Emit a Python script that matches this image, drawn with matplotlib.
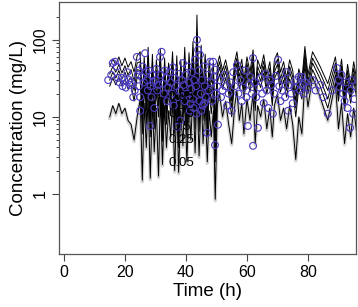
import numpy as np
import matplotlib
matplotlib.use("Agg")
import matplotlib.pyplot as plt
import matplotlib.transforms as mtransforms
from matplotlib.ticker import FixedLocator, NullFormatter

plt.rcParams['font.family'] = ['Liberation Sans', 'DejaVu Sans']

# simulated quantile lines (VPC), one value per observation time
time = [15.0, 16.0, 17.0, 18.0, 19.0, 20.0, 21.0, 22.0, 23.0, 24.0,
        25.0, 25.7, 26.3, 27.0, 27.6, 28.3, 29.0, 29.6, 30.3, 31.0, 31.6, 32.3, 33.0,
        33.6, 34.3, 35.0, 35.6, 36.3, 37.0, 37.6, 38.3, 39.0, 39.6, 40.3, 41.0, 41.6,
        42.3, 43.0, 43.6, 44.3, 45.0, 45.6, 46.3, 47.0, 47.6, 48.3, 49.0, 49.6,
        50.3, 51.0, 52.0, 53.0, 54.0, 55.0, 56.0, 56.7, 57.5, 58.3, 59.0, 60.0, 61.0,
        62.0, 62.7, 63.5, 64.5, 65.5, 66.5, 67.5, 68.3, 69.0, 70.0, 71.0, 72.0, 73.0,
        74.0, 75.0, 76.0, 77.0, 78.0, 79.0, 80.0, 81.5, 84.0, 86.5, 89.0, 90.0, 91.0,
        92.0, 93.0, 94.0, 95.0, 96.0]

q95 = [45, 56, 48, 60, 46, 58, 44, 52, 38, 62,
       70, 16, 60, 22, 80, 15, 65, 18, 55, 25, 75, 13, 58, 20, 50, 27, 70, 16, 62, 11,
       55, 22, 80, 15, 68, 25, 95, 18, 210, 17, 85, 24, 65, 15, 55, 28, 50, 8,
       48, 62, 40, 55, 36, 20, 52, 70, 40, 56, 30, 60, 38, 74, 22, 55, 42, 64, 35, 52,
       25, 55, 68, 38, 52, 32, 55, 40, 20, 42, 30, 82, 35, 70, 45, 27, 60, 28, 56,
       22, 48, 26, 52, 30]
q75 = [36, 45, 38, 48, 37, 46, 35, 41, 29, 50,
       52, 12, 46, 16, 60, 11, 50, 13, 40, 19, 56, 9, 44, 15, 37, 20, 52, 12, 47, 8,
       40, 16, 58, 11, 50, 19, 68, 13, 120, 12, 60, 18, 47, 11, 40, 20, 37, 6,
       40, 52, 33, 46, 30, 16, 43, 58, 33, 46, 25, 50, 31, 61, 18, 45, 35, 53, 29, 43,
       20, 45, 56, 31, 43, 26, 45, 33, 16, 35, 25, 68, 29, 58, 37, 22, 50, 23, 46,
       18, 40, 21, 43, 25]
q50 = [30, 38, 32, 40, 31, 38, 29, 33, 22, 41,
       40, 9, 35, 12, 45, 8, 38, 10, 30, 14, 42, 7, 33, 11, 28, 15, 40, 9, 36, 6,
       30, 12, 44, 8, 38, 14, 50, 10, 70, 9, 45, 13, 35, 8, 30, 15, 28, 4,
       34, 44, 28, 39, 25, 13, 36, 49, 28, 39, 21, 42, 26, 52, 15, 38, 29, 45, 24, 36,
       17, 38, 48, 26, 36, 22, 38, 28, 13, 29, 21, 57, 24, 50, 31, 17, 42, 19, 39,
       15, 33, 18, 36, 21]
q25 = [25, 32, 26, 33, 25, 31, 23, 26, 16, 33,
       30, 6, 26, 8, 33, 5.5, 28, 7, 22, 10, 31, 4.8, 25, 8, 21, 11, 30, 6, 27, 4,
       22, 8.5, 33, 5.5, 28, 10, 37, 7, 45, 6.5, 33, 9, 26, 5.5, 22, 11, 21, 2.6,
       28, 36, 23, 32, 20, 10, 30, 40, 23, 32, 17, 34, 21, 42, 12, 31, 24, 37, 20, 30,
       14, 31, 39, 21, 30, 18, 31, 23, 10, 24, 17, 47, 20, 41, 25, 13, 35, 16, 32,
       12, 27, 15, 30, 17]
q05 = [10, 14, 11, 15, 11, 13, 9, 8, 5, 10,
       17, 1.5, 15, 4, 19, 1.6, 16, 3.5, 13, 1.7, 18, 2.4, 14, 4, 12, 5.5, 17, 2.0, 15, 1.9,
       12, 4.2, 19, 2.6, 16, 5, 21, 3.4, 24, 3.1, 19, 4.5, 15, 2.6, 12, 5.5, 12, 0.85,
       14, 20, 10, 16, 8, 4.5, 14, 22, 9, 15, 6, 17, 9, 20, 4.5, 14, 10, 17, 7, 13,
       5.5, 14, 20, 9, 13, 7, 14, 8, 2.8, 10, 6, 30, 13.5, 33, 18, 9, 28, 7, 15,
       4.5, 11, 5.5, 13, 6]

quant_labels = ["0.95", "0.75", "0.5", "0.25", "0.05"]
label_x = 38.5
label_y = [18, 10.8, 7.3, 5.0, 2.5]

# observed concentrations
obs_time = [14.5, 15.5, 16.0, 16.7, 17.3, 17.7, 18.2, 18.9, 19.2, 19.8, 20.3, 20.8,
            21.3, 21.8, 22.2, 22.7, 23.2, 23.9, 24.2, 24.6, 25.0, 25.0, 24.5,
            25.5, 25.8, 26.2, 26.6, 26.9, 27.2, 27.5, 27.8, 28.2, 28.4, 28.7, 29.0,
            29.3, 29.6, 30.0, 30.3, 30.6, 31.0, 31.5, 31.8, 32.0, 32.4, 32.8, 33.1,
            33.5, 33.8, 34.2, 34.6, 35.0, 35.4, 35.7, 36.0, 36.4, 36.8, 37.0, 37.3,
            37.7, 38.0, 38.3, 38.6, 39.0, 39.3, 39.6, 40.0, 40.3, 40.7, 41.0, 41.3,
            41.7, 42.0, 42.3, 42.7, 43.0, 43.3, 43.6, 44.0, 44.2, 44.6, 44.9, 45.2,
            45.5, 45.8, 46.1, 46.5, 46.9, 47.2, 47.5, 47.9, 48.2, 48.5, 48.9, 49.2,
            49.5, 49.5, 49.8, 50.2, 50.5, 41.5, 42.5, 43.5, 44.5, 45.0, 46.0,
            51.0, 51.5, 52.0, 52.5, 53.0, 53.5, 54.0, 54.6, 55.0, 55.5, 56.0, 56.7,
            57.2, 57.8, 58.3, 58.8, 59.3, 59.8, 60.3, 60.8, 61.2, 61.6, 62.0, 62.0,
            62.5, 63.0, 63.6, 64.0, 64.5, 65.0, 65.5, 66.0, 66.5, 67.0, 67.5, 68.0,
            68.5, 69.0, 69.5, 70.2, 70.6, 71.0, 71.5, 72.0, 72.5, 73.0, 73.5, 74.0,
            74.5, 75.0, 75.5, 76.0, 77.0, 77.5, 78.0, 78.3, 78.6, 79.0, 80.0, 81.5,
            82.5, 84.0, 85.0, 86.5, 88.0, 89.5, 90.0, 90.5, 91.0, 91.5, 92.0, 92.5,
            93.0, 93.8, 94.0, 94.4, 94.8, 95.2, 95.5]
obs_conc = [30, 35, 50, 52, 45, 32, 28, 32, 25, 30, 24, 38,
            30, 26, 28, 18, 22, 60, 35, 40, 18, 12, 25,
            33, 45, 28, 67, 38, 30, 22, 40, 7.6, 25, 18, 35,
            28, 13, 30, 42, 22, 26, 60, 35, 70, 27, 20, 40,
            32, 16, 24, 38, 28, 20, 44, 14, 32, 25, 7.4, 18,
            36, 22, 9, 30, 50, 26, 16, 35, 20, 45, 28, 12,
            23, 38, 17, 30, 55, 25, 100, 74, 40, 64, 20, 30,
            14, 45, 25, 18, 6.2, 35, 22, 52, 28, 16, 52, 33,
            41, 4.3, 20, 25, 7.9, 15, 13, 11, 16, 12, 15,
            30, 18, 22, 35, 25, 14, 20, 28, 12, 38, 25, 47,
            20, 30, 16, 24, 40, 18, 7.6, 26, 33, 20, 58, 4.2,
            28, 18, 7.2, 24, 32, 20, 15, 36, 22, 13, 30, 26,
            11, 20, 34, 55, 25, 16, 22, 30, 18, 38, 12, 26,
            20, 15, 24, 30, 33, 22, 33, 26, 20, 28, 24, 30,
            22, 26, 18, 11, 22, 43, 30, 24, 35, 20, 16, 28,
            13, 7.2, 22, 30, 11, 17, 25]

fig = plt.figure(figsize=(3.58, 3.07), dpi=100)
ax = fig.add_axes([0.165, 0.173, 0.829, 0.8205])

# light grey shadow under the lowest quantile
shadow = mtransforms.offset_copy(ax.transData, fig=fig, y=-1.5, units="dots")
ax.plot(time, q05, color="#d4d4d4", lw=2.4, zorder=1, transform=shadow)
for q in [q95, q75, q50, q25, q05]:
    ax.plot(time, q, color="black", lw=0.7, zorder=2)

ax.scatter(obs_time, obs_conc, s=24, facecolors="none", edgecolors="#4a3cc0",
           linewidths=0.8, zorder=3)

for lab, yy in zip(quant_labels, label_y):
    ax.text(label_x, yy, lab, fontsize=9.5, ha="center", va="center", zorder=4)

ax.set_yscale("log")
ax.set_xlim(-1.6, 95.7)
ax.set_ylim(0.166, 310)

ax.set_xticks([0, 20, 40, 60, 80])
ax.yaxis.set_major_locator(FixedLocator([1, 10, 100]))
ax.yaxis.set_minor_locator(FixedLocator([2, 3, 4, 5, 6, 7, 8, 9,
                                         20, 30, 40, 50, 60, 70, 80, 90, 200]))
ax.yaxis.set_minor_formatter(NullFormatter())
ax.set_yticklabels(["1", "10", "100"], rotation=90, va="center")

ax.tick_params(which="major", length=5, width=0.8, labelsize=11.5, color="#444444", pad=3)
ax.tick_params(which="minor", length=2.5, width=0.7, color="#444444")
for s in ax.spines.values():
    s.set_color("#555555")
    s.set_linewidth(0.9)

ax.set_xlabel("Time (h)", fontsize=13.5, labelpad=2)
ax.set_ylabel("Concentration (mg/L)", fontsize=13.5, labelpad=4)

fig.savefig("out.png", dpi=100)
